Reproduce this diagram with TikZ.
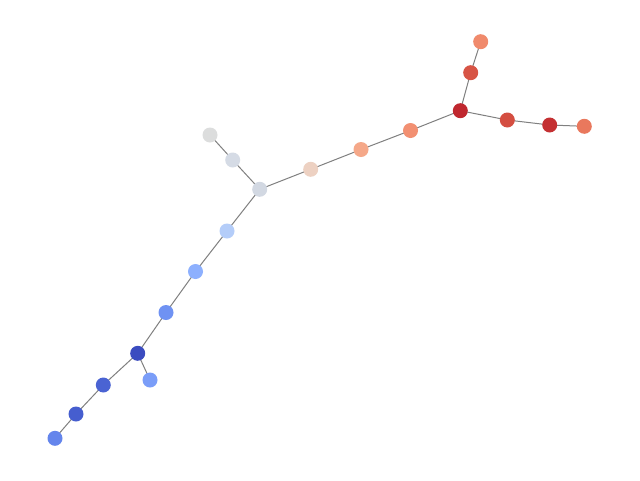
\documentclass[tikz,border=0pt]{standalone}
\begin{document}
\begin{tikzpicture}[x=1pt,y=-1pt,
  vtx/.style={circle,inner sep=0pt,minimum size=15pt,draw=none},
  edge/.style={draw=gray!50!black!60,line width=1pt}]
\definecolor{edgec}{HTML}{808080}
\definecolor{cA}{HTML}{F08A6C}
\definecolor{cB}{HTML}{D75445}
\definecolor{cC}{HTML}{C0282F}
\definecolor{cD}{HTML}{D44E41}
\definecolor{cE}{HTML}{C43032}
\definecolor{cF}{HTML}{E9785D}
\definecolor{cG}{HTML}{F29072}
\definecolor{cH}{HTML}{F5A889}
\definecolor{cI}{HTML}{EDD1C2}
\definecolor{cJ}{HTML}{D2D8E2}
\definecolor{cK}{HTML}{D5DBE5}
\definecolor{cL}{HTML}{DCDDDD}
\definecolor{cM}{HTML}{B4CDF9}
\definecolor{cN}{HTML}{8DB0FE}
\definecolor{cO}{HTML}{6F92F3}
\definecolor{cP}{HTML}{3B4CC0}
\definecolor{cQ}{HTML}{7A9DF8}
\definecolor{cR}{HTML}{4A63D3}
\definecolor{cS}{HTML}{465ECF}
\definecolor{cT}{HTML}{6485EC}
\useasboundingbox[fill=white] (0,0) rectangle (640,480);
\coordinate (p1) at (480.7,41.7);
\coordinate (p2) at (470.7,72.7);
\coordinate (p3) at (460.3,110.7);
\coordinate (p4) at (507.3,120);
\coordinate (p5) at (549.7,125);
\coordinate (p6) at (584.3,126.3);
\coordinate (p7) at (410.5,130.5);
\coordinate (p8) at (361,149.5);
\coordinate (p9) at (310.7,169.3);
\coordinate (p10) at (259.7,189.3);
\coordinate (p11) at (232.7,160);
\coordinate (p12) at (210,135);
\coordinate (p13) at (227,231);
\coordinate (p14) at (195.5,271.5);
\coordinate (p15) at (166,312.5);
\coordinate (p16) at (137.7,353.3);
\coordinate (p17) at (150,380);
\coordinate (p18) at (103.3,385);
\coordinate (p19) at (76,414);
\coordinate (p20) at (55,438.3);
\foreach \a/\b in {p1/p2,p2/p3,p3/p4,p4/p5,p5/p6,p3/p7,p7/p8,p8/p9,p9/p10,p10/p11,p11/p12,p10/p13,p13/p14,p14/p15,p15/p16,p16/p17,p16/p18,p18/p19,p19/p20}
  \draw[draw=edgec,line width=1pt] (\a) -- (\b);
\node[vtx,fill=cA] (n1) at (p1) {};
\node[vtx,fill=cB] (n2) at (p2) {};
\node[vtx,fill=cC] (n3) at (p3) {};
\node[vtx,fill=cD] (n4) at (p4) {};
\node[vtx,fill=cE] (n5) at (p5) {};
\node[vtx,fill=cF] (n6) at (p6) {};
\node[vtx,fill=cG] (n7) at (p7) {};
\node[vtx,fill=cH] (n8) at (p8) {};
\node[vtx,fill=cI] (n9) at (p9) {};
\node[vtx,fill=cJ] (n10) at (p10) {};
\node[vtx,fill=cK] (n11) at (p11) {};
\node[vtx,fill=cL] (n12) at (p12) {};
\node[vtx,fill=cM] (n13) at (p13) {};
\node[vtx,fill=cN] (n14) at (p14) {};
\node[vtx,fill=cO] (n15) at (p15) {};
\node[vtx,fill=cP] (n16) at (p16) {};
\node[vtx,fill=cQ] (n17) at (p17) {};
\node[vtx,fill=cR] (n18) at (p18) {};
\node[vtx,fill=cS] (n19) at (p19) {};
\node[vtx,fill=cT] (n20) at (p20) {};
\end{tikzpicture}
\end{document}
